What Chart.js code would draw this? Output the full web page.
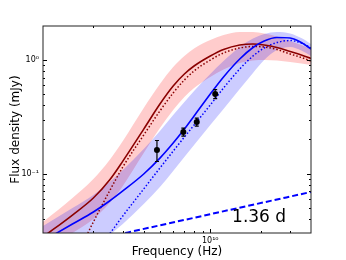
<!DOCTYPE html>
<html><head><meta charset="utf-8">
<script src="https://cdn.jsdelivr.net/npm/chart.js@4/dist/chart.umd.min.js"></script>
<style>html,body{margin:0;padding:0;background:#fff;overflow:hidden}#wrap{width:346px;height:260px}</style>
</head><body><div id="wrap"><canvas id="c" width="346" height="260"></canvas></div>
<script>
// ---- data ----
const freqGHz   = [1,1.5,2,2.5,3,4,5,6,7,8,10,12,15,18,21,25,30,35,40];
const redSolid  = [0.0277,0.0432,0.0610,0.0879,0.129,0.247,0.411,0.592,0.755,0.888,1.088,1.242,1.360,1.388,1.360,1.293,1.192,1.110,1.034];
const redDotted = [null,0.0157,0.0375,0.0704,0.1145,0.219,0.357,0.514,0.669,0.803,1.003,1.157,1.280,1.319,1.306,1.242,1.133,1.056,0.983];
const redUpper  = [0.0375,0.0610,0.0897,0.132,0.194,0.379,0.617,0.871,1.088,1.267,1.505,1.666,1.770,1.770,1.718,1.616,1.475,1.360,1.254];
const redLower  = [0.0213,0.0300,0.0399,0.0551,0.0779,0.152,0.253,0.364,0.473,0.568,0.711,0.827,0.944,0.993,1.003,0.993,0.963,0.935,0.906];
const blueSolid = [0.0255,0.0360,0.0459,0.0574,0.0704,0.0993,0.137,0.186,0.247,0.322,0.503,0.711,1.024,1.293,1.475,1.584,1.568,1.431,1.254];
const blueDotted= [null,null,0.0188,0.0294,0.0424,0.0733,0.1122,0.158,0.210,0.268,0.403,0.568,0.836,1.088,1.280,1.431,1.490,1.416,1.280];
const blueUpper = [0.0346,0.0498,0.0649,0.0845,0.1077,0.165,0.238,0.329,0.428,0.535,0.755,0.983,1.306,1.552,1.700,1.770,1.718,1.568,1.388];
const blueLower = [0.0116,0.0167,0.0221,0.0288,0.0360,0.0540,0.0763,0.1056,0.140,0.179,0.268,0.371,0.557,0.771,1.003,1.229,1.306,1.216,1.088];
const dashFreqHz = [3.1e9, 4e10];
const dashFlux   = [0.030, 0.069];
const obsFreqHz = [4.8e9, 6.9e9, 8.3e9, 1.07e10];
const obsFlux   = [0.162, 0.233, 0.285, 0.504];
const obsErr    = [0.034, 0.019, 0.023, 0.045];
const xTickValues = [1e10];
const xTickLabels = ['10\u00B9\u2070'];
const yTickValues = [0.1, 1];
const yTickLabels = ['10\u207B\u00B9', '10\u2070'];
const xMinorTicks = [2e9,3e9,4e9,5e9,6e9,7e9,8e9,9e9,2e10,3e10];
const yMinorTicks = [0.04,0.05,0.06,0.07,0.08,0.09,0.2,0.3,0.4,0.5,0.6,0.7,0.8,0.9];
const epochLabel = '1.36 d';
const epochPos = {x: 1.35e10, y: 0.0375};

const FONT = 'DejaVu Sans';
const pts = arr => freqGHz.map((f,i)=>({x:f*1e9, y:arr[i]}));

const frameTicks = {
  id:'frameTicks',
  afterDatasetsDraw(chart){
    const {ctx, chartArea:a, scales:{x,y}} = chart;
    ctx.save();
    ctx.strokeStyle='#000'; ctx.lineWidth=1;
    ctx.beginPath();
    const vt = (v,len)=>{const p=Math.round(x.getPixelForValue(v))+0.5;
      ctx.moveTo(p,a.bottom); ctx.lineTo(p,a.bottom-len); ctx.moveTo(p,a.top); ctx.lineTo(p,a.top+len);};
    const ht = (v,len)=>{const p=Math.round(y.getPixelForValue(v))+0.5;
      ctx.moveTo(a.left,p); ctx.lineTo(a.left+len,p); ctx.moveTo(a.right,p); ctx.lineTo(a.right-len,p);};
    xTickValues.forEach(v=>vt(v,4)); xMinorTicks.forEach(v=>vt(v,2));
    yTickValues.forEach(v=>ht(v,4)); yMinorTicks.forEach(v=>ht(v,2));
    ctx.stroke();
    ctx.strokeStyle='#222';
    ctx.strokeRect(a.left, a.top, a.right-a.left, a.bottom-a.top);
    ctx.fillStyle='#000';
    ctx.font = '17px "'+FONT+'"';
    ctx.textAlign='left'; ctx.textBaseline='alphabetic';
    ctx.fillText(epochLabel, x.getPixelForValue(epochPos.x), y.getPixelForValue(epochPos.y));
    ctx.restore();
  }
};

const OBS = 9;
const errorBars = {
  id:'errorBars',
  beforeDatasetDraw(chart,args){
    if(args.index!==OBS) return;
    const {ctx, scales:{x,y}} = chart;
    ctx.save(); ctx.strokeStyle='#000'; ctx.lineWidth=1.2; ctx.beginPath();
    obsFreqHz.forEach((f,i)=>{
      const px=x.getPixelForValue(f);
      const t=y.getPixelForValue(obsFlux[i]+obsErr[i]);
      const b=y.getPixelForValue(obsFlux[i]-obsErr[i]);
      ctx.moveTo(px,t); ctx.lineTo(px,b);
      ctx.moveTo(px-2,t); ctx.lineTo(px+2,t);
      ctx.moveTo(px-2,b); ctx.lineTo(px+2,b);
    });
    ctx.stroke(); ctx.restore();
  }
};

const lineBase = {pointRadius:0, borderWidth:1.6, cubicInterpolationMode:'monotone', fill:false};
const bandBase = {pointRadius:0, borderWidth:0, cubicInterpolationMode:'monotone', borderColor:'rgba(0,0,0,0)'};

new Chart(document.getElementById('c'), {
  type:'line',
  data:{datasets:[
    {...bandBase, data:pts(redUpper), fill:1, backgroundColor:'rgba(255,0,0,0.2)', order:20},
    {...bandBase, data:pts(redLower), fill:false, order:20},
    {...bandBase, data:pts(blueUpper), fill:3, backgroundColor:'rgba(0,0,255,0.2)', order:19},
    {...bandBase, data:pts(blueLower), fill:false, order:19},
    {...lineBase, data:pts(redDotted), borderColor:'#8b0000', borderWidth:1.5, borderDash:[1.5,2], order:10},
    {...lineBase, data:pts(blueDotted), borderColor:'#0000ff', borderWidth:1.5, borderDash:[1.5,2], order:9},
    {...lineBase, data:pts(redSolid), borderColor:'#8b0000', order:8},
    {...lineBase, data:pts(blueSolid), borderColor:'#0000ff', order:7},
    {...lineBase, data:dashFreqHz.map((f,i)=>({x:f,y:dashFlux[i]})), borderColor:'#0000ff', borderWidth:2, borderDash:[6,3], order:6},
    {type:'scatter', data:obsFreqHz.map((f,i)=>({x:f,y:obsFlux[i]})), pointRadius:3, pointBackgroundColor:'#000', pointBorderColor:'#000', borderWidth:0, order:0, showLine:false}
  ]},
  options:{
    responsive:false, animation:false, devicePixelRatio:1,
    layout:{padding:{left:0,right:35,top:26,bottom:0}},
    plugins:{legend:{display:false}, tooltip:{enabled:false}},
    scales:{
      x:{type:'logarithmic', min:1e9, max:4e10,
        grid:{display:false, drawTicks:false}, border:{display:false},
        afterBuildTicks:s=>{s.ticks = xTickValues.map(v=>({value:v}));},
        afterFit:s=>{s.height=27;},
        ticks:{autoSkip:false, maxRotation:0, padding:3, color:'#000', font:{family:FONT,size:8},
          callback:(v,i)=>xTickLabels[i]},
        title:{display:true, text:'Frequency (Hz)', color:'#000', font:{family:FONT,size:12}, padding:{top:0,bottom:1}}
      },
      y:{type:'logarithmic', min:0.03, max:2,
        grid:{display:false, drawTicks:false}, border:{display:false},
        afterBuildTicks:s=>{s.ticks = yTickValues.map(v=>({value:v}));},
        afterFit:s=>{s.width=43;},
        ticks:{autoSkip:false, padding:4, color:'#000', font:{family:FONT,size:8},
          callback:(v,i)=>yTickLabels[i]},
        title:{display:true, text:'Flux density (mJy)', color:'#000', font:{family:FONT,size:12}, padding:{top:9,bottom:0}}
      }
    }
  },
  plugins:[errorBars, frameTicks]
});
</script></body></html>
